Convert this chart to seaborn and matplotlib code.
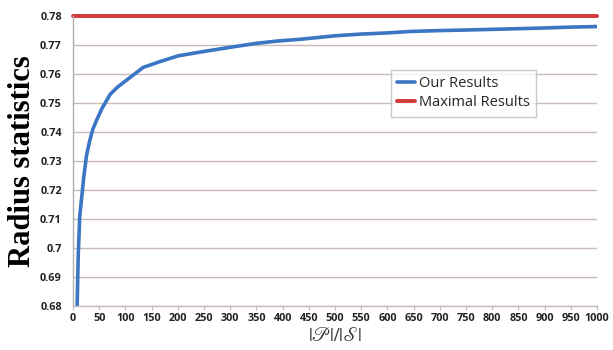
import matplotlib
matplotlib.use("Agg")
import matplotlib.pyplot as plt
import seaborn as sns
import pandas as pd

ratio = [8, 10, 13, 17, 21, 26, 32, 38, 45, 55, 71, 85, 103, 134, 166, 201, 250,
         306, 350, 390, 434, 500, 550, 600, 644, 700, 750, 816, 900, 950, 1000]
our_results = [0.680, 0.697, 0.711, 0.718, 0.725, 0.732, 0.737, 0.741, 0.744, 0.748,
               0.753, 0.7555, 0.758, 0.7623, 0.7643, 0.7663, 0.7678, 0.7694, 0.7706,
               0.7714, 0.772, 0.7732, 0.7738, 0.7742, 0.7747, 0.775, 0.7752, 0.7755,
               0.7759, 0.7762, 0.7764]
max_x = [0, 1000]
max_results = [0.78, 0.78]
y_ticks = [0.68, 0.69, 0.7, 0.71, 0.72, 0.73, 0.74, 0.75, 0.76, 0.77, 0.78]
y_tick_labels = ["0.68", "0.69", "0.7", "0.71", "0.72", "0.73", "0.74", "0.75", "0.76", "0.77", "0.78"]
x_ticks = list(range(0, 1001, 50))

sns.set_theme(style="white")
plt.rcParams['font.family'] = ['Open Sans', 'DejaVu Sans']
plt.rcParams['mathtext.fontset'] = 'stix'

fig = plt.figure(figsize=(6.13, 3.5), dpi=100)
ax = fig.add_axes([0.119, 0.126, 0.855, 0.828])

df_our = pd.DataFrame({"x": ratio, "y": our_results})
df_max = pd.DataFrame({"x": max_x, "y": max_results})

sns.lineplot(data=df_our, x="x", y="y", ax=ax, color="#3a76c4", linewidth=2.6,
             label="Our Results", clip_on=True)
sns.lineplot(data=df_max, x="x", y="y", ax=ax, color="#d23a3a", linewidth=2.8,
             label="Maximal Results", clip_on=False)

ax.set_xlim(0, 1000)
ax.set_ylim(0.68, 0.78)
ax.set_yticks(y_ticks)
ax.set_yticklabels(y_tick_labels)
ax.set_xticks(x_ticks)
ax.set_xticklabels([str(t) for t in x_ticks])
ax.tick_params(axis='both', labelsize=7.8, pad=2)
for lbl in ax.get_xticklabels() + ax.get_yticklabels():
    lbl.set_fontweight('bold')
    lbl.set_color('#222222')
ax.tick_params(axis='x', bottom=True, length=3, color='#bbbbbb', width=0.8)
ax.tick_params(axis='y', left=False)

ax.grid(axis='y', color='#c9bcb6', linewidth=1.0)
ax.grid(axis='x', visible=False)
ax.set_axisbelow(True)
for s in ['top', 'right']:
    ax.spines[s].set_visible(False)
ax.spines['left'].set_color('#b0b0b0')
ax.spines['bottom'].set_color('#c9bcb6')
ax.spines['left'].set_linewidth(1.0)
ax.spines['bottom'].set_linewidth(1.0)

ax.set_ylabel("Radius statistics", fontsize=22, fontweight='bold',
              family=['Liberation Serif'], labelpad=2, color='black')
ax.set_xlabel(r'$|\mathscr{P}|/|\mathscr{S}|$', fontsize=14, labelpad=2, color='#333333')

leg = ax.legend(loc='upper left', bbox_to_anchor=(0.592, 0.84), frameon=True,
                fontsize=10.5, handlelength=1.2, handletextpad=0.3,
                borderpad=0.45, labelspacing=0.25, fancybox=False)
leg.get_frame().set_edgecolor('#bbbbbb')
leg.get_frame().set_linewidth(1.0)

fig.savefig("out.png", dpi=100)
